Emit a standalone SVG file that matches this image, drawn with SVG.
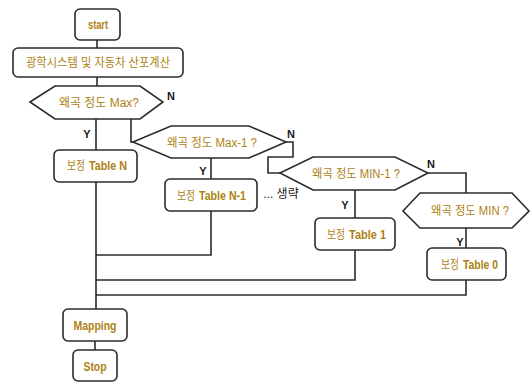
<svg xmlns="http://www.w3.org/2000/svg" width="530" height="383" viewBox="0 0 530 383">
<style>
.box{fill:#fff;stroke:#2b2b2b;stroke-width:1.6}
.ln{fill:none;stroke:#2b2b2b;stroke-width:1.6}
.t{font-family:"Liberation Sans","Noto Sans CJK KR",sans-serif;font-size:12px;fill:#ad8214;text-anchor:middle;dominant-baseline:central}
.s{text-anchor:start}
.b{font-weight:bold}
.lb{font-family:"Liberation Sans","Noto Sans CJK KR",sans-serif;font-size:11px;font-weight:bold;fill:#1a1a1a;text-anchor:middle;dominant-baseline:central}
</style>
<rect width="530" height="383" fill="#fff"/>
<g id="connectors">
<path class="ln" d="M97 40V48M97 77V86M96 119V150M96 182V309M95 341V350"/>
<path class="ln" d="M131 119V142H133"/>
<path class="ln" d="M286 142H293V157H268V173H280"/>
<path class="ln" d="M428 173H466V193"/>
<path class="ln" d="M211 158V179M211 211V255H96"/>
<path class="ln" d="M355 190V218M355 250V280H96"/>
<path class="ln" d="M466 228V248M466 280V295H96"/>
</g>
<g id="start"><rect class="box" x="75" y="9" width="45" height="31" rx="5"/><text class="t b" x="98" y="25" textLength="20" lengthAdjust="spacingAndGlyphs">start</text></g>
<g id="calc"><rect class="box" x="13" y="48" width="170" height="29" rx="5"/><text class="t" x="98" y="63" textLength="144" lengthAdjust="spacingAndGlyphs">광학시스템 및 자동차 산포계산</text></g>
<g id="dMax"><polygon class="box" points="30,102 55,86 140,86 163,102 140,119 55,119"/><text class="t" x="99" y="103" textLength="80" lengthAdjust="spacingAndGlyphs">왜곡 정도 Max?</text><text class="lb" x="171" y="96">N</text><text class="lb" x="87" y="134">Y</text></g>
<g id="tN"><rect class="box" x="54" y="150" width="83" height="32" rx="5"/><text class="t s" x="67" y="166" textLength="18" lengthAdjust="spacingAndGlyphs">보정</text><text class="t s b" x="89" y="166" textLength="38" lengthAdjust="spacingAndGlyphs">Table N</text></g>
<g id="dMax1"><polygon class="box" points="133,142 171,126 249,126 286,142 249,158 171,158"/><text class="t" x="212" y="143" textLength="90" lengthAdjust="spacingAndGlyphs">왜곡 정도 Max-1 ?</text><text class="lb" x="291" y="134">N</text><text class="lb" x="203" y="171">Y</text></g>
<g id="tN1"><rect class="box" x="165" y="179" width="92" height="32" rx="5"/><text class="t s" x="177" y="196" textLength="18" lengthAdjust="spacingAndGlyphs">보정</text><text class="t s b" x="199" y="196" textLength="47" lengthAdjust="spacingAndGlyphs">Table N-1</text></g>
<g id="omit"><text class="lb" x="281" y="194" style="font-weight:normal;font-size:12px">... 생략</text></g>
<g id="dMin1"><polygon class="box" points="280,173 313,157 395,157 428,173 395,190 313,190"/><text class="t" x="356" y="174" textLength="88" lengthAdjust="spacingAndGlyphs">왜곡 정도 MIN-1 ?</text><text class="lb" x="431" y="164">N</text><text class="lb" x="345" y="205">Y</text></g>
<g id="t1"><rect class="box" x="315" y="218" width="80" height="32" rx="5"/><text class="t s" x="327" y="235" textLength="18" lengthAdjust="spacingAndGlyphs">보정</text><text class="t s b" x="349" y="235" textLength="37" lengthAdjust="spacingAndGlyphs">Table 1</text></g>
<g id="dMin"><polygon class="box" points="403,211 420,193 512,193 529,211 512,228 420,228"/><text class="t" x="470" y="211" textLength="78" lengthAdjust="spacingAndGlyphs">왜곡 정도 MIN ?</text><text class="lb" x="460" y="242">Y</text></g>
<g id="t0"><rect class="box" x="427" y="248" width="79" height="32" rx="5"/><text class="t s" x="441" y="265" textLength="18" lengthAdjust="spacingAndGlyphs">보정</text><text class="t s b" x="463" y="265" textLength="35" lengthAdjust="spacingAndGlyphs">Table 0</text></g>
<g id="mapping"><rect class="box" x="63" y="309" width="64" height="32" rx="5"/><text class="t b" x="95" y="326" textLength="43" lengthAdjust="spacingAndGlyphs">Mapping</text></g>
<g id="stop"><rect class="box" x="73" y="350" width="44" height="31" rx="5"/><text class="t b" x="95" y="367" textLength="23" lengthAdjust="spacingAndGlyphs">Stop</text></g>
</svg>
